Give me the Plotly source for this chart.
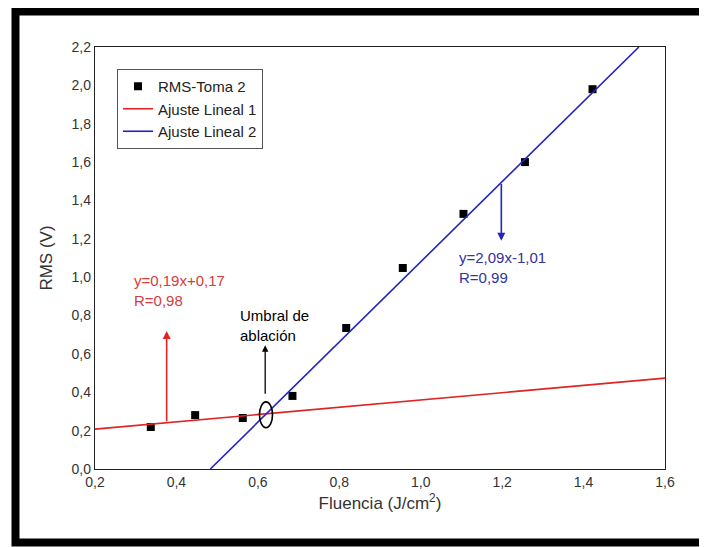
import plotly.graph_objects as go

# Data
fluencia = [0.337, 0.446, 0.563, 0.685, 0.817, 0.956, 1.105, 1.256, 1.422]
rms = [0.219, 0.281, 0.266, 0.381, 0.735, 1.048, 1.330, 1.600, 1.980]

fit1_slope, fit1_intercept = 0.19, 0.17
fit2_slope, fit2_intercept = 2.09, -1.01

x_range = [0.2, 1.6]
y_range = [0.0, 2.2]

series_names = ["RMS-Toma 2", "Ajuste Lineal 1", "Ajuste Lineal 2"]
fit1_label = "y=0,19x+0,17<br>R=0,98"
fit2_label = "y=2,09x-1,01<br>R=0,99"
umbral_label = "Umbral de<br>ablación"

RED = "rgb(222,36,36)"
BLUE = "rgb(36,36,190)"
RED_TXT = "rgb(214,60,60)"
BLUE_TXT = "rgb(50,50,160)"
FONT = "Liberation Sans, Arial, sans-serif"

fig = go.Figure()

fig.add_trace(go.Scatter(
    x=fluencia, y=rms, mode="markers", name=series_names[0],
    marker=dict(symbol="square", size=8, color="black"),
))

# Fit line 1 across full x range
x1 = list(x_range)
y1 = [fit1_slope * v + fit1_intercept for v in x1]
fig.add_trace(go.Scatter(x=x1, y=y1, mode="lines", name=series_names[1],
                         line=dict(color=RED, width=1.6)))

# Fit line 2 clipped to visible y range
x2 = [(y_range[0] - fit2_intercept) / fit2_slope, (y_range[1] - fit2_intercept) / fit2_slope]
y2 = [fit2_slope * v + fit2_intercept for v in x2]
fig.add_trace(go.Scatter(x=x2, y=y2, mode="lines", name=series_names[2],
                         line=dict(color=BLUE, width=1.6)))

# Arrows
xa_red = 0.376
fig.add_annotation(x=xa_red, y=0.72, ax=xa_red, ay=fit1_slope * xa_red + fit1_intercept,
                   xref="x", yref="y", axref="x", ayref="y", text="",
                   showarrow=True, arrowhead=2, arrowsize=1, arrowwidth=1.6, arrowcolor=RED)
xa_blue = 1.198
fig.add_annotation(x=xa_blue, y=1.19, ax=xa_blue, ay=fit2_slope * xa_blue + fit2_intercept,
                   xref="x", yref="y", axref="x", ayref="y", text="",
                   showarrow=True, arrowhead=2, arrowsize=1, arrowwidth=1.6, arrowcolor=BLUE)
xa_blk = 0.618
fig.add_annotation(x=xa_blk, y=0.645, ax=xa_blk, ay=0.385,
                   xref="x", yref="y", axref="x", ayref="y", text="",
                   showarrow=True, arrowhead=2, arrowsize=1, arrowwidth=1.3, arrowcolor="black")

# Texts
fig.add_annotation(x=0.29, y=0.93, xref="x", yref="y", text=fit1_label, showarrow=False,
                   xanchor="left", yanchor="middle", align="left",
                   font=dict(family=FONT, size=15, color=RED_TXT))
fig.add_annotation(x=1.09, y=1.05, xref="x", yref="y", text=fit2_label, showarrow=False,
                   xanchor="left", yanchor="middle", align="left",
                   font=dict(family=FONT, size=15, color=BLUE_TXT))
fig.add_annotation(x=0.55, y=0.75, xref="x", yref="y", text=umbral_label, showarrow=False,
                   xanchor="left", yanchor="middle", align="left",
                   font=dict(family=FONT, size=15, color="black"))

# Ellipse at threshold
fig.add_shape(type="circle", xref="x", yref="y", x0=0.604, x1=0.636, y0=0.215, y1=0.35,
              line=dict(color="black", width=1.6))

# Page is offset by the 8px body margin; figure sized to fit the window
OFF = 8
W, H = 707 - OFF, 547 - OFF
L, T = 95 - OFF, 47 - OFF
R = W - (665 - OFF)
B = H - (469 - OFF)
pw, ph = W - L - R, H - T - B
def px(xp):
    return (xp - OFF - L) / pw
def py(yp):
    return (H - B - (yp - OFF)) / ph

# Outer black frame
fig.add_shape(type="rect", xref="paper", yref="paper",
              x0=px(15.5), x1=px(740), y0=py(542.5), y1=py(11.5),
              line=dict(color="black", width=8), fillcolor="rgba(0,0,0,0)", layer="above")

fig.update_layout(
    width=W, height=H,
    margin=dict(l=L, r=R, t=T, b=B, autoexpand=False),
    paper_bgcolor="white", plot_bgcolor="white",
    separators=",.",
    font=dict(family=FONT, size=14, color="#333"),
    showlegend=True,
    legend=dict(x=px(117), y=py(69), xanchor="left", yanchor="top",
                bordercolor="#555", borderwidth=1, bgcolor="white",
                font=dict(family=FONT, size=15, color="#222"),
                tracegroupgap=0, itemwidth=30),
    xaxis=dict(range=x_range, dtick=0.2, tick0=0.2, tickformat=".1f",
               showgrid=False, zeroline=False, showline=True, linecolor="#222",
               linewidth=1.3, mirror=True, ticks="", automargin=False,
               tickfont=dict(size=14, color="#333"),
               title=dict(text="Fluencia (J/cm<sup>2</sup>)", standoff=8,
                          font=dict(size=17, color="#333"))),
    yaxis=dict(range=y_range, dtick=0.2, tickformat=".1f",
               showgrid=False, zeroline=False, showline=True, linecolor="#222",
               linewidth=1.3, mirror=True, ticks="", automargin=False,
               tickfont=dict(size=14, color="#333"),
               title=dict(text="RMS (V)", standoff=14,
                          font=dict(size=17, color="#333"))),
)

fig.write_html("out.html")
